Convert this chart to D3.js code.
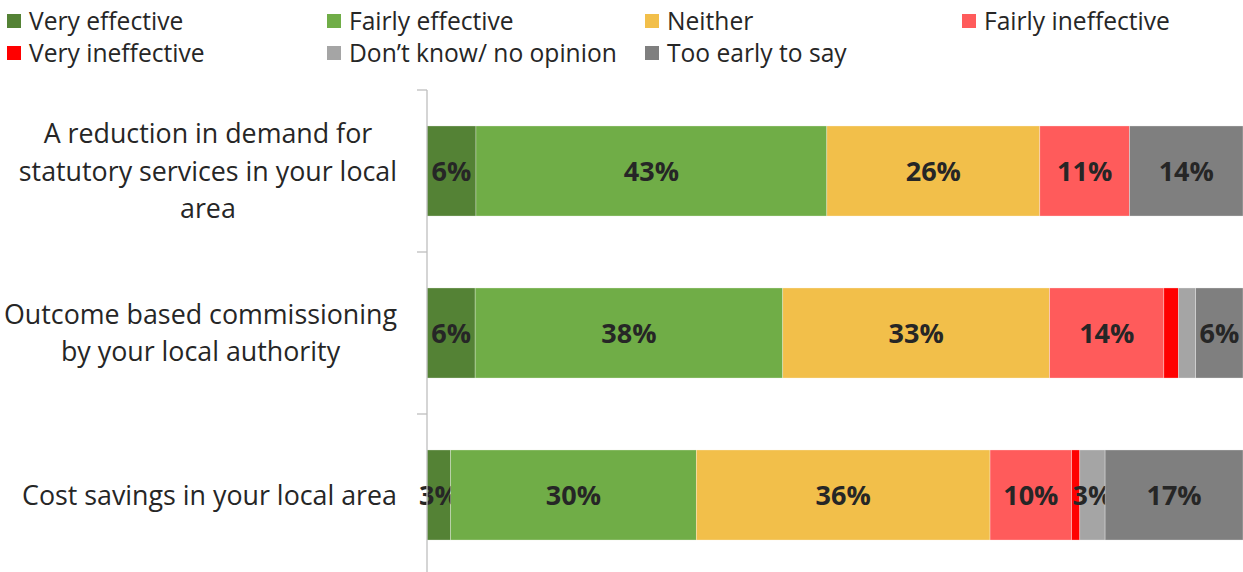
<!DOCTYPE html>
<html>
<head>
<meta charset="utf-8">
<script src="https://cdn.jsdelivr.net/npm/d3@7"></script>
<style>
  html, body { margin: 0; padding: 0; background: #fff; }
  svg { display: block; font-family: "Open Sans", "Noto Sans", sans-serif; }
</style>
</head>
<body>
<svg id="chart" width="1243" height="572"></svg>
<script>
// Survey categories (each may wrap onto several lines)
const categories = [
  "A reduction in demand for statutory services in your local area",
  "Outcome based commissioning by your local authority",
  "Cost savings in your local area"
];
const categoryLines = [
  ["A reduction in demand for", "statutory services in your local", "area"],
  ["Outcome based commissioning", "by your local authority"],
  ["Cost savings in your local area"]
];

// Response options, in stacking order
const seriesNames = [
  "Very effective", "Fairly effective", "Neither", "Fairly ineffective",
  "Very ineffective", "Don\u2019t know/ no opinion", "Too early to say"
];
const seriesColors = ["#548235", "#70AD47", "#F2BF4A", "#FF5B5B", "#FF0000", "#A5A5A5", "#7F7F7F"];

// Percentage of respondents per category, one array per response option
const veryEffective     = [6.0, 5.9, 2.9];
const fairlyEffective   = [43.0, 37.7, 30.1];
const neither           = [26.1, 32.7, 36.0];
const fairlyIneffective = [11.0, 14.0, 10.0];
const veryIneffective   = [0.0, 1.8, 1.0];
const dontKnow          = [0.0, 2.1, 3.1];
const tooEarly          = [13.9, 5.8, 16.9];

const seriesValues = [veryEffective, fairlyEffective, neither, fairlyIneffective,
                      veryIneffective, dontKnow, tooEarly];

// Build the table for d3.stack
const rows = categories.map((c, i) => {
  const r = { category: c };
  seriesNames.forEach((s, k) => { r[s] = seriesValues[k][i]; });
  return r;
});
const stacked = d3.stack().keys(seriesNames)(rows);

const svg = d3.select("#chart");
const axisX = 427;

const x = d3.scaleLinear().domain([0, 100]).range([axisX, 1243]);
const y = d3.scaleBand().domain(categories).range([90, 576])
  .paddingInner(0.444).paddingOuter(0.222);

// Bars
const layer = svg.append("g").selectAll("g")
  .data(stacked).join("g")
  .attr("fill", (d, i) => seriesColors[i]);

layer.selectAll("rect")
  .data(d => d.map(p => ({ p, cat: p.data.category })))
  .join("rect")
  .attr("x", d => x(d.p[0]))
  .attr("y", d => y(d.cat))
  .attr("width", d => Math.max(0, x(d.p[1]) - x(d.p[0])))
  .attr("height", y.bandwidth())
  .attr("stroke", "#ffffff")
  .attr("stroke-opacity", 0.5)
  .attr("stroke-width", 0.6);

// Value labels (small slices left unlabelled)
const fmt = d3.format(".0f");
layer.selectAll("text")
  .data(d => d.map(p => ({ p, cat: p.data.category, v: p[1] - p[0] })))
  .join("text")
  .filter(d => Math.round(d.v) >= 3)
  .attr("x", d => (x(d.p[0]) + x(d.p[1])) / 2)
  .attr("y", d => y(d.cat) + y.bandwidth() / 2)
  .attr("dy", "0.36em")
  .attr("text-anchor", "middle")
  .attr("fill", "#262626")
  .attr("font-weight", "bold")
  .attr("font-size", 27)
  .text(d => fmt(d.v) + "%");

// Category axis
const axis = svg.append("g")
  .attr("transform", `translate(${axisX},0)`)
  .call(d3.axisLeft(y).tickSize(0).tickFormat(""));
axis.select(".domain").remove();
axis.append("line")
  .attr("x1", 0).attr("x2", 0).attr("y1", 90).attr("y2", 576)
  .attr("stroke", "#BFBFBF").attr("stroke-width", 1.3);
const step = y.step();
axis.selectAll(".sep")
  .data(d3.range(categories.length + 1))
  .join("line")
  .attr("x1", -10).attr("x2", 0)
  .attr("y1", i => 90 + i * step).attr("y2", i => 90 + i * step)
  .attr("stroke", "#BFBFBF").attr("stroke-width", 1.3);

// Category labels: wrapped block right-aligned to the axis, lines centred
const labelRight = 397;
const lineH = 37.5;
const labelG = svg.append("g");
categories.forEach((c, i) => {
  const lines = categoryLines[i];
  const g = labelG.append("g");
  const texts = lines.map((ln, j) => g.append("text")
    .attr("font-size", 26.8)
    .attr("fill", "#262626")
    .attr("text-anchor", "middle")
    .attr("y", y(c) + y.bandwidth() / 2 + (j - (lines.length - 1) / 2) * lineH)
    .attr("dy", "0.36em")
    .text(ln));
  const w = d3.max(texts, t => t.node().getComputedTextLength());
  texts.forEach(t => t.attr("x", labelRight - w / 2));
});

// Legend: 4 columns x 2 rows
const legendCols = [7, 327, 645, 962];
const legendRows = [21, 53];
const legend = svg.append("g").selectAll("g")
  .data(seriesNames).join("g")
  .attr("transform", (d, i) => `translate(${legendCols[i % 4]},${legendRows[Math.floor(i / 4)]})`);
legend.append("rect")
  .attr("x", 0).attr("y", -7).attr("width", 14).attr("height", 14)
  .attr("fill", (d, i) => seriesColors[i]);
legend.append("text")
  .attr("x", 22).attr("y", 0).attr("dy", "0.36em")
  .attr("font-size", 24.6)
  .attr("fill", "#262626")
  .text(d => d);
</script>
</body>
</html>
